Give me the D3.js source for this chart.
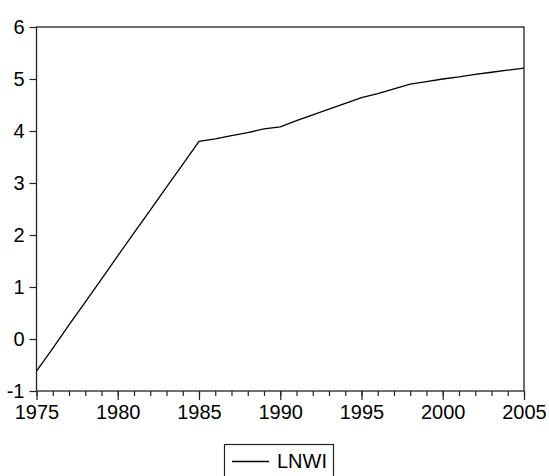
<!DOCTYPE html>
<html>
<head>
<meta charset="utf-8">
<script src="https://cdn.jsdelivr.net/npm/d3@7"></script>
<style>
  body { margin: 0; background: #fff; }
  svg { display: block; font-family: "Liberation Sans", Arial, sans-serif; }
</style>
</head>
<body>
<svg class="container" width="549" height="476"></svg>
<script>
let years = d3.range(1975, 2006);
let lnwi = [
    -0.62, -0.18, 0.27, 0.71, 1.15, 1.60, 2.04, 2.48, 2.92, 3.36,
    3.80, 3.85, 3.91, 3.97, 4.04, 4.08, 4.20, 4.31, 4.42, 4.53,
    4.64, 4.72, 4.81, 4.90, 4.95, 5.00, 5.04, 5.09, 5.13, 5.17,
    5.21
];
let yTicks = [-1, 0, 1, 2, 3, 4, 5, 6];
let xTicks = [1975, 1980, 1985, 1990, 1995, 2000, 2005];
let seriesName = "LNWI";

let plotLeft = 36.5, plotRight = 524, plotTop = 27, plotBottom = 391;
let svg = d3.select(".container");

let x = d3.scaleLinear().domain([1975, 2005]).range([plotLeft, plotRight]);
let y = d3.scaleLinear().domain([-1, 6]).range([plotBottom, plotTop]);

// frame
svg.append("rect")
    .attr("x", plotLeft).attr("y", plotTop)
    .attr("width", plotRight - plotLeft).attr("height", plotBottom - plotTop)
    .style("fill", "none").style("stroke", "#222").style("stroke-width", 1.3);

// y axis (plain hyphen for negatives, like the original)
let yAxis = svg.append("g")
    .attr("transform", `translate(${plotLeft},0)`)
    .call(d3.axisLeft(y).tickValues(yTicks).tickSize(7).tickPadding(5).tickFormat(d => String(d)));
yAxis.select(".domain").remove();
yAxis.selectAll("text").style("font-size", "20px").style("fill", "#000")
    .style("font-family", "Liberation Sans, Arial, sans-serif");
yAxis.selectAll("line").style("stroke", "#222").style("stroke-width", 1.2);

// x axis: minor ticks each year, major every 5
let xMinor = svg.append("g")
    .attr("transform", `translate(0,${plotBottom})`)
    .call(d3.axisBottom(x).tickValues(years).tickSize(5).tickFormat(""));
xMinor.select(".domain").remove();
xMinor.selectAll("line").style("stroke", "#222").style("stroke-width", 1.2);

let xAxis = svg.append("g")
    .attr("transform", `translate(0,${plotBottom})`)
    .call(d3.axisBottom(x).tickValues(xTicks).tickSize(9).tickPadding(5).tickFormat(d => String(d)));
xAxis.select(".domain").remove();
xAxis.selectAll("text").style("font-size", "20px").style("fill", "#000")
    .style("font-family", "Liberation Sans, Arial, sans-serif");
xAxis.selectAll("line").style("stroke", "#222").style("stroke-width", 1.2);

// series line
let line = d3.line()
    .x((d, i) => x(years[i]))
    .y(d => y(d));
svg.append("path")
    .datum(lnwi)
    .attr("d", line)
    .style("fill", "none")
    .style("stroke", "#000")
    .style("stroke-width", 1.3);

// legend
let legend = svg.append("g");
legend.append("rect")
    .attr("x", 224.5).attr("y", 444.5)
    .attr("width", 109).attr("height", 34)
    .style("fill", "#fff").style("stroke", "#222").style("stroke-width", 1.2);
legend.append("line")
    .attr("x1", 232).attr("x2", 269)
    .attr("y1", 461.5).attr("y2", 461.5)
    .style("stroke", "#000").style("stroke-width", 1.3);
legend.append("text")
    .attr("x", 277).attr("y", 468)
    .style("font-size", "20px")
    .text(seriesName);
</script>
</body>
</html>
